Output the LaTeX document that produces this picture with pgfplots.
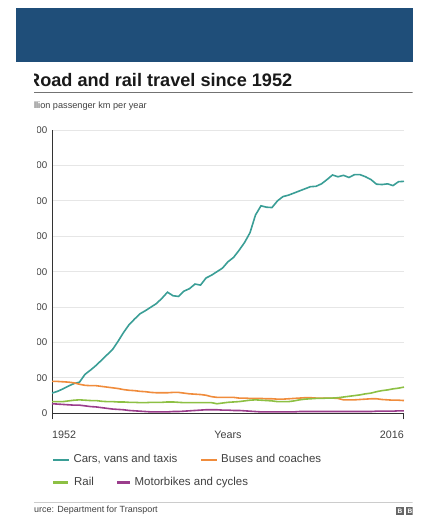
\documentclass[border=0pt]{standalone}
\usepackage{pgfplots}
\usepackage{pgfplotstable}
\pgfplotsset{compat=1.18}
\usepackage{fontspec}
\setmainfont{Liberation Sans}
\definecolor{banner}{HTML}{1F4E79}
\definecolor{cars}{HTML}{3A9E96}
\definecolor{buses}{HTML}{F08C3C}
\definecolor{rail}{HTML}{8DC044}
\definecolor{moto}{HTML}{9B3D8C}
\definecolor{txt}{HTML}{404040}
\definecolor{gridc}{HTML}{E6E6E6}
\definecolor{axisc}{HTML}{333333}
\pgfplotstableread{
year cars buses rail moto
1952 57 90 33 27
1953 62 90 33 26
1954 69 89 33 25
1955 77 88 35 24
1956 84 86 37 23
1957 88 82 38 23
1958 110 79 37 21
1959 122 78 36 19
1960 135 78 36 18
1961 150 76 34 16
1962 165 74 33 14
1963 180 72 33 12
1964 203 70 32 11
1965 228 67 32 10
1966 250 65 31 8
1967 266 64 31 7
1968 281 62 30 6
1969 290 61 30 5
1970 300 59 31 4
1971 310 58 31 4
1972 325 58 31 4
1973 342 58 32 4
1974 332 59 32 5
1975 330 59 31 5
1976 345 57 30 6
1977 352 55 30 7
1978 365 54 30 8
1979 362 53 30 9
1980 382 51 30 10
1981 390 47 30 10
1982 400 45 27 10
1983 410 45 29 9
1984 428 45 31 9
1985 440 45 32 8
1986 460 43 33 8
1987 482 43 35 7
1988 510 42 37 6
1989 560 42 38 5
1990 586 42 37 4
1991 582 41 36 4
1992 581 41 35 4
1993 600 40 33 4
1994 612 40 33 4
1995 616 41 33 4
1996 622 42 35 4
1997 628 43 38 5
1998 634 44 40 5
1999 640 44 41 5
2000 641 43 42 5
2001 648 43 42 5
2002 660 43 43 5
2003 673 43 43 5
2004 668 42 44 5
2005 672 38 46 5
2006 666 38 48 5
2007 674 38 50 5
2008 674 39 52 5
2009 668 40 55 5
2010 660 41 57 5
2011 647 41 61 6
2012 646 39 64 6
2013 648 38 66 6
2014 643 37 69 6
2015 654 37 71 7
2016 655 36 74 7
}\datatable
\begin{document}
\begin{tikzpicture}
\useasboundingbox (0bp,0bp) rectangle (437bp,515bp);
\fill[banner] (16bp,453bp) rectangle (413bp,507bp);
\begin{scope}
\clip (34bp,0bp) rectangle (412.5bp,515bp);
% title
\node[anchor=base west, inner sep=0pt, font=\fontsize{18.2}{20}\selectfont\bfseries, text=black!90] at (27bp,428.3bp) {Road and rail travel since 1952};
\draw[color=black!55, line width=0.8bp] (34bp,422.5bp) -- (413bp,422.5bp);
\node[anchor=base west, inner sep=0pt, font=\fontsize{9.2}{11}\selectfont, text=txt] at (25.8bp,406.5bp) {Billion passenger km per year};
\begin{scope}
\clip (37bp,0bp) rectangle (412.5bp,515bp);
\begin{axis}[
  at={(52bp,101.7bp)}, anchor=south west,
  scale only axis, width=352bp, height=283.3bp,
  xmin=1952, xmax=2016, ymin=0, ymax=800,
  axis x line*=bottom, axis y line*=left,
  axis line style={color=axisc, line width=1bp},
  ytick={0,100,...,800},
  ymajorgrids, grid style={color=gridc, line width=0.9bp},
  ytick style={draw=none},
  /pgf/number format/assume math mode=true,
  yticklabel style={font=\fontsize{9.8}{11}\selectfont, text=txt, anchor=east, inner sep=0pt, xshift=-4.5bp},
  xtick={1952}, xticklabels={1952},
  extra x ticks={2016}, extra x tick labels={2016},
  extra x tick style={xticklabel style={anchor=north east}},
  xtick align=outside, major tick length=6bp,
  xtick style={color=axisc, line width=1bp},
  xticklabel style={font=\fontsize{10.8}{12}\selectfont, text=txt, anchor=north west, inner sep=0pt, yshift=-11bp},
  xlabel={Years},
  xlabel style={font=\fontsize{10.8}{12}\selectfont, text=txt, at={(axis description cs:0.5,0)}, anchor=base, yshift=-25bp, inner sep=0pt},
  clip=false,
]
\addplot[color=cars, line width=1.6bp] table[x=year, y=cars] {\datatable};
\addplot[color=buses, line width=1.6bp] table[x=year, y=buses] {\datatable};
\addplot[color=rail, line width=1.6bp] table[x=year, y=rail] {\datatable};
\addplot[color=moto, line width=1.6bp] table[x=year, y=moto] {\datatable};
\end{axis}
\end{scope}
% legend
\draw[cars, line width=2.4bp] (53.3bp,55bp) -- (69.3bp,55bp);
\node[anchor=base west, inner sep=0pt, font=\fontsize{11.5}{13}\selectfont, text=txt] at (73.3bp,52bp) {Cars, vans and taxis};
\draw[buses, line width=2.4bp] (201bp,55bp) -- (216.5bp,55bp);
\node[anchor=base west, inner sep=0pt, font=\fontsize{11.5}{13}\selectfont, text=txt] at (221bp,52bp) {Buses and coaches};
\draw[rail, line width=2.4bp] (53.3bp,32.3bp) -- (68bp,32.3bp);
\node[anchor=base west, inner sep=0pt, font=\fontsize{11.5}{13}\selectfont, text=txt] at (74bp,29.3bp) {Rail};
\draw[moto, line width=2.4bp] (117bp,32.3bp) -- (130bp,32.3bp);
\node[anchor=base west, inner sep=0pt, font=\fontsize{11.5}{13}\selectfont, text=txt] at (134.5bp,29.3bp) {Motorbikes and cycles};
% source
\draw[color=black!20, line width=1.2bp] (34bp,12.5bp) -- (413bp,12.5bp);
\node[anchor=base west, inner sep=0pt, font=\fontsize{9}{10}\selectfont, text=txt] at (23bp,2.5bp) {Source: Department for Transport};
\fill[black!60] (396bp,0bp) rectangle (404bp,8bp);
\node[inner sep=0pt, font=\fontsize{6.5}{7}\selectfont\bfseries, text=white] at (400bp,4bp) {B};
\fill[black!60] (406bp,0bp) rectangle (414bp,8bp);
\node[inner sep=0pt, font=\fontsize{6.5}{7}\selectfont\bfseries, text=white] at (410bp,4bp) {B};
\end{scope}
\end{tikzpicture}
\end{document}
